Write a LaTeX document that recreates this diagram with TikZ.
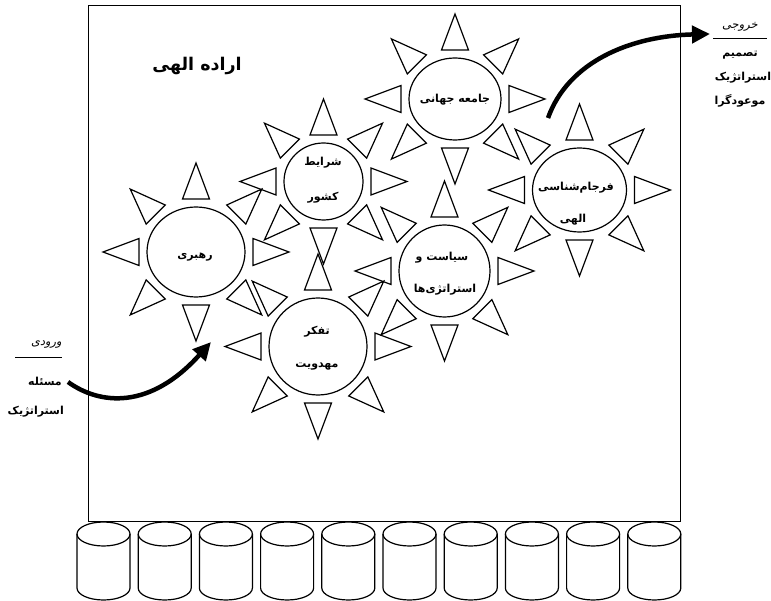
\documentclass[tikz,border=0pt]{standalone}
\usepackage{fontspec}
\usetikzlibrary{arrows.meta,shapes.geometric,calc}
\TeXXeTstate=1
\newfontfamily\fa[Script=Arabic]{DejaVu Sans}
\newfontfamily\fasl[Script=Arabic,FakeSlant=0.2]{DejaVu Sans}
\tikzset{
  sunc/.style={ellipse, draw, line width=1.2pt, inner sep=0pt},
  ray/.style={line width=1.2pt, line join=miter},
  cyl/.style={line width=1.2pt},
  lbl/.style={font=\fa\bfseries\fontsize{11}{13}\selectfont, inner sep=0pt},
  side/.style={font=\fa\bfseries\fontsize{11}{13}\selectfont, inner sep=0pt},
  sidehead/.style={font=\fasl\fontsize{11.5}{13}\selectfont, inner sep=0pt},
  bigarrow/.style={line width=4.5pt, -{Triangle[length=18pt,width=17pt]}},
}
\newcommand\sunrays[3]{%
  \foreach \a in {0,45,...,315}{%
    \path (#1.center) ++(\a:#2 and #3) coordinate (m);
    \draw[ray] ($(m)+(\a+90:13.5)$) -- ($(m)+(\a:36)$) -- ($(m)+(\a-90:13.5)$) -- cycle;
  }}
\begin{document}
\begin{tikzpicture}[x=1pt,y=-1pt]
\useasboundingbox (0,0) rectangle (771,601);
% frame
\node[draw, line width=1.3pt, inner sep=0pt, anchor=north west,
      minimum width=592pt, minimum height=516pt] (frame) at (88,5) {};
% title
\node[font=\fa\bfseries\fontsize{17.5}{20}\selectfont, inner sep=0pt] (title) at (197,66) {\beginR اراده الهی\endR};
% suns
\node[sunc, minimum width=98pt, minimum height=90pt] (s1) at (196,252) {};
\node[sunc, minimum width=79pt, minimum height=77pt] (s2) at (323.5,181.5) {};
\node[sunc, minimum width=92pt, minimum height=82pt] (s3) at (455,99) {};
\node[sunc, minimum width=91pt, minimum height=92pt] (s4) at (444.5,271) {};
\node[sunc, minimum width=98pt, minimum height=97pt] (s5) at (318,346.5) {};
\node[sunc, minimum width=94pt, minimum height=84pt] (s6) at (579.5,190) {};
\sunrays{s1}{57}{53}
\sunrays{s2}{47.5}{46.5}
\sunrays{s3}{54}{49}
\sunrays{s4}{53.5}{54}
\sunrays{s5}{57}{56.5}
\sunrays{s6}{55}{50}
% labels
\node[lbl] (t1) at (195,257) {\beginR رهبری\endR};
\node[lbl] (t2a) at (323,163) {\beginR شرایط\endR};
\node[lbl] (t2b) at (323,198) {\beginR کشور\endR};
\node[lbl] (t3) at (455,100) {\beginR جامعه جهانی\endR};
\node[lbl] (t4a) at (442,258) {\beginR سیاست و\endR};
\node[lbl] (t4b) at (445,290) {\beginR استراتژی‌ها\endR};
\node[lbl] (t5a) at (317,332) {\beginR تفکر\endR};
\node[lbl] (t5b) at (317,367) {\beginR مهدویت\endR};
\node[lbl] (t6a) at (576,188) {\beginR فرجام‌شناسی\endR};
\node[lbl] (t6b) at (573,220) {\beginR الهی\endR};
% left texts
\node[sidehead, anchor=east] (inH) at (62,345) {\beginR ورودی\endR};
\draw[line width=0.8pt] (15,357) -- (62,357);
\node[side, anchor=east] (in1) at (62,381) {\beginR مسئله\endR};
\node[side, anchor=east] (in2) at (64,412) {\beginR استراتژیک\endR};
% right texts
\node[sidehead] (outH) at (740,27) {\beginR خروجی\endR};
\draw[line width=0.8pt] (713,38) -- (767,38);
\node[side] (out1) at (740,55) {\beginR تصمیم\endR};
\node[side] (out2) at (743,78) {\beginR استراتژیک\endR};
\node[side] (out3) at (740,101) {\beginR موعودگرا\endR};
% arrows
\coordinate (inS) at (68,382);
\coordinate (inE) at (211,342);
\draw[bigarrow] (inS) .. controls (100,405) and (150,410) .. (inE);
\coordinate (outS) at (548,118);
\coordinate (outE) at (710,34);
\draw[bigarrow] (outS) .. controls (568,62) and (630,36) .. (outE);
% cylinders
\foreach \i in {0,...,9}{
  \pgfmathsetmacro\cx{103.5+61.2*\i}
  \draw[cyl] (\cx,534) ellipse [x radius=26.5pt, y radius=12pt];
  \draw[cyl] (\cx-26.5,534) -- (\cx-26.5,588) arc[start angle=180, end angle=360, x radius=26.5pt, y radius=12pt] -- (\cx+26.5,534);
}
\end{tikzpicture}
\end{document}
